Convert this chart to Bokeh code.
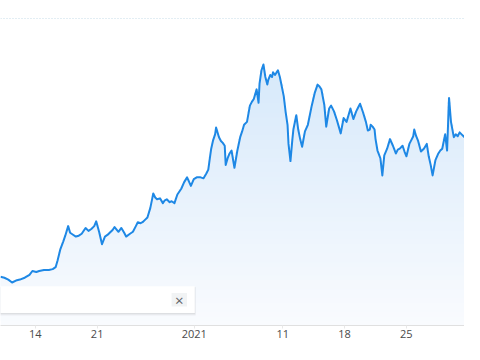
import numpy as np
from bokeh.plotting import figure
from bokeh.models import Range1d, FixedTicker, Grid, BoxAnnotation, Label
from bokeh.embed import file_html
from bokeh.resources import INLINE

# ---- data ----
# days since 2020-12-10 00:00
days = [0.06, 0.50, 0.94, 1.37, 1.81, 2.25, 2.80, 3.34, 3.67, 4.11, 4.44, 4.98, 5.53, 5.97, 6.30,
        6.52, 6.84, 7.17, 7.39, 7.72, 7.94, 8.27, 8.59, 8.92, 9.25, 9.69, 10.02, 10.34, 10.67, 10.89,
        11.22, 11.55, 11.88, 12.20, 12.42, 12.75, 12.97, 13.41, 13.74, 14.06, 14.28, 14.72, 15.05,
        15.38, 15.60, 15.92, 16.14, 16.47, 16.69, 17.02, 17.24, 17.35, 17.57, 17.78, 18.11, 18.44,
        18.66, 18.88, 19.21, 19.43, 19.75, 20.08, 20.52, 20.85, 21.18, 21.61, 21.94, 22.27, 22.71,
        23.04, 23.36, 23.58, 23.80, 23.91, 24.13, 24.35, 24.46, 24.79, 25.01, 25.22, 25.44, 25.55,
        25.77, 25.99, 26.21, 26.54, 26.87, 27.19, 27.41, 27.63, 27.96, 28.29, 28.51, 28.73, 29.05,
        29.27, 29.38, 29.60, 29.82, 30.04, 30.26, 30.37, 30.59, 30.80, 30.91, 31.13, 31.46, 31.68,
        31.79, 32.12, 32.34, 32.55, 32.66, 32.88, 33.10, 33.21, 33.54, 33.76, 33.98, 34.20, 34.52,
        34.85, 35.07, 35.29, 35.62, 35.95, 36.17, 36.38, 36.71, 36.93, 37.26, 37.48, 37.81, 38.13,
        38.35, 38.57, 38.90, 39.23, 39.45, 39.67, 40.00, 40.32, 40.54, 40.76, 41.09, 41.42, 41.64,
        41.86, 41.96, 42.18, 42.40, 42.51, 42.73, 43.06, 43.28, 43.50, 43.82, 44.15, 44.48, 44.81,
        45.03, 45.25, 45.57, 45.79, 46.01, 46.34, 46.56, 46.78, 46.89, 47.11, 47.33, 47.65, 47.98,
        48.31, 48.53, 48.75, 48.97, 49.29, 49.62, 49.84, 50.06, 50.39, 50.61, 50.83, 51.05, 51.37,
        51.59, 51.81, 52.03, 52.25, 52.58]

prices = [17840, 17730, 17520, 17190, 17410, 17520, 17730, 18060, 18490, 18380, 18490, 18600, 18600,
          18700, 18920, 19680, 20970, 21840, 22480, 23560, 22810, 22590, 22380, 22480, 22700, 23350,
          23020, 23240, 23560, 24100, 22920, 21510, 22380, 22590, 22810, 23130, 23460, 22920, 23350,
          22810, 22380, 22700, 22920, 23560, 24000, 23890, 24000, 24320, 24540, 25620, 26700, 27240,
          26800, 26590, 26700, 26160, 26480, 26590, 26260, 26370, 26160, 27130, 27780, 28530, 29070,
          28100, 28860, 29070, 29070, 28960, 29500, 29940, 31560, 32310, 33280, 33930, 34690, 33610,
          33180, 32960, 32640, 30480, 31230, 31770, 32100, 30150, 32100, 33610, 34260, 35010, 35340,
          37170, 37600, 37930, 39010, 37500, 39660, 41170, 41820, 40410, 39550, 40090, 40630, 40410,
          40950, 40630, 41170, 40410, 39870, 38250, 36420, 35010, 32850, 30910, 33390, 34470, 36090,
          34470, 33390, 32530, 34260, 35010, 36090, 37170, 38580, 39550, 39330, 39010, 37280, 34800,
          36850, 37170, 36520, 35550, 34800, 34040, 35770, 35340, 36090, 36850, 35660, 36520, 36960,
          37390, 36420, 35340, 34360, 34470, 35010, 34800, 34470, 33390, 32100, 31230, 29290, 31560,
          32310, 33390, 32640, 31770, 32200, 32310, 32640, 31990, 31450, 32850, 33280, 33720, 34470,
          33720, 33180, 31990, 32310, 32850, 31450, 30480, 29290, 31020, 31770, 32100, 32310, 33930,
          32100, 38040, 35340, 33610, 33930, 33720, 34150, 33930, 33610]

tick_days = [4, 11, 22, 32, 39, 46]
tick_labels = ["14", "21", "2021", "11", "18", "25"]
grid_levels = [47000]

# ---- figure ----
LINE = "#1e88e5"
x0, x1 = 0.06, 52.58
y0, y1 = 12332, 49052

p = figure(width=464, height=344, output_backend="svg", toolbar_location=None,
           x_range=Range1d(x0, x1), y_range=Range1d(y0, y1),
           x_axis_location="below", y_axis_location=None,
           min_border_left=0, min_border_right=0, min_border_top=0, min_border_bottom=19)
p.outline_line_color = None
p.background_fill_color = "white"
p.border_fill_color = "white"
p.xgrid.visible = False
p.ygrid.visible = False

# dotted horizontal gridline
p.add_layout(Grid(dimension=1, ticker=FixedTicker(ticks=grid_levels),
                  grid_line_color="#c6dce8", grid_line_dash="1 2", grid_line_width=1))

# vertical gradient under the line (opaque bands, light at the bottom)
bottom_rgb = np.array([249, 251, 254])
top_rgb = np.array([213, 232, 250])
levels = np.linspace(y0, 42500, 60)
pr = np.array(prices, dtype=float)
for i, lv in enumerate(levels):
    t = i / (len(levels) - 1)
    c = np.round(bottom_rgb + (top_rgb - bottom_rgb) * t).astype(int)
    p.varea(x=days, y1=np.full(len(days), lv), y2=np.maximum(pr, lv),
            fill_color="#%02x%02x%02x" % tuple(c), fill_alpha=1)

p.line(days, prices, line_color=LINE, line_width=2, line_join="round")

# x axis
ax = p.xaxis[0]
ax.ticker = FixedTicker(ticks=tick_days)
ax.major_label_overrides = {d: l for d, l in zip(tick_days, tick_labels)}
ax.axis_line_color = "#e0e0e0"
ax.major_tick_line_color = "#e8e8e8"
ax.major_tick_out = 3
ax.major_tick_in = 0
ax.minor_tick_line_color = None
ax.major_label_standoff = 1
ax.major_label_text_font = "Open Sans"
ax.major_label_text_font_size = "11px"
ax.major_label_text_color = "#4a4a4a"

# dismissible info box seen in the screenshot (positions in reference pixels)
def ppx(px):
    return px * 0.10941 + 0.06

def ppy(py):
    return 49052 - 108 * py

p.add_layout(BoxAnnotation(left=x0 - 1, right=ppx(202), top=ppy(300), bottom=ppy(329.5),
                           fill_color="black", fill_alpha=0.05, line_color=None, level="overlay"))
p.add_layout(BoxAnnotation(left=x0 - 1, right=ppx(201.5), top=ppy(299.5), bottom=ppy(328.3),
                           fill_color="black", fill_alpha=0.06, line_color=None, level="overlay"))
p.add_layout(BoxAnnotation(left=x0 - 1, right=ppx(201), top=ppy(299), bottom=ppy(327),
                           fill_color="white", fill_alpha=1, line_color=None, level="overlay"))
p.add_layout(BoxAnnotation(left=ppx(177), right=ppx(193), top=ppy(306), bottom=ppy(320),
                           fill_color="#f1f3f4", fill_alpha=1, line_color=None, level="overlay"))
p.add_layout(Label(x=ppx(185), y=ppy(313), text="×", text_align="center", text_baseline="middle",
                   text_font="Open Sans", text_font_size="15px", text_color="#5f6368", level="overlay"))

open("out.html", "w").write(file_html(p, INLINE))
